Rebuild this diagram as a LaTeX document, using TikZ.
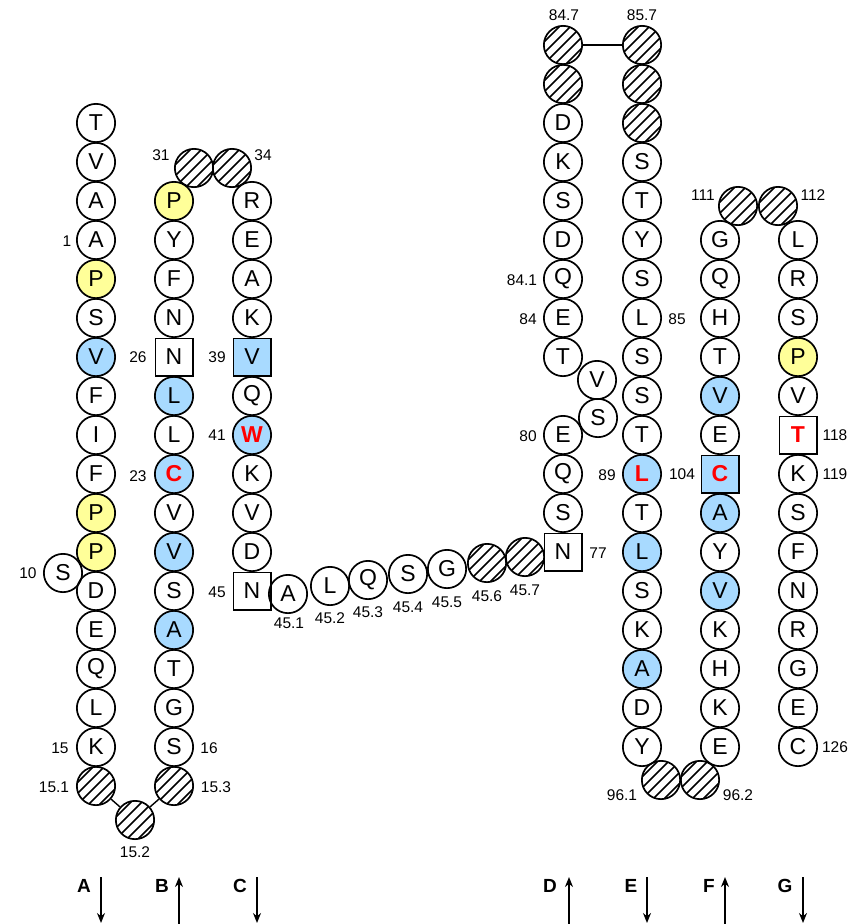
\documentclass[tikz,border=0pt]{standalone}
\usepackage{fontspec}
\setmainfont{Liberation Sans}
\usetikzlibrary{arrows.meta}
\definecolor{ylw}{HTML}{FFFF99}
\definecolor{lbl}{HTML}{A8DAFF}
\begin{document}
\begin{tikzpicture}[x=1pt,y=-1pt,
  res/.style={circle,draw,line width=1.7pt,minimum size=38.3pt,inner sep=0pt,font=\fontsize{23}{23}\selectfont},
  pw/.style={res},
  py/.style={res,fill=ylw},
  pb/.style={res,fill=lbl},
  pbr/.style={res,fill=lbl,text=red,font=\fontsize{23}{23}\selectfont\bfseries},
  psq/.style={res,rectangle,minimum size=37.3pt},
  pbsq/.style={psq,fill=lbl},
  pbsqr/.style={psq,fill=lbl,text=red,font=\fontsize{23}{23}\selectfont\bfseries},
  psqr/.style={psq,text=red,font=\fontsize{23}{23}\selectfont\bfseries},
  ph/.style={res,path picture={\foreach \k in {-44,-33,...,44} \draw[line width=1.6pt] ([xshift=\k pt]path picture bounding box.center) ++(-30pt,-30pt) -- ++(60pt,60pt);}},
  num/.style={font=\fontsize{15.5}{15.5}\selectfont,inner sep=0pt},
  lett/.style={font=\fontsize{19}{19}\selectfont\bfseries,inner sep=0pt},
  arr/.style={line width=1.8pt,-{Stealth[length=10pt,width=8pt]}},
  link/.style={line width=1.4pt}
]
\useasboundingbox (0,0) rectangle (854,924);

% column A
\foreach \l/\s [count=\i from 2] in {T/pw,V/pw,A/pw,A/pw,P/py,S/pw,V/pb,F/pw,I/pw,F/pw,P/py,P/py,D/pw,E/pw,Q/pw,L/pw,K/pw,{}/ph}
  \node[\s] (A\i) at (96,{45+39*\i}) {\l};
\node[pw] (Aside) at (63,573) {S};
% column B
\foreach \l/\s [count=\i from 4] in {P/py,Y/pw,F/pw,N/pw,N/psq,L/pb,L/pw,C/pbr,V/pw,V/pb,S/pw,A/pb,T/pw,G/pw,S/pw,{}/ph}
  \node[\s] (B\i) at (174,{45+39*\i}) {\l};
% column C
\foreach \l/\s [count=\i from 4] in {R/pw,E/pw,A/pw,K/pw,V/pbsq,Q/pw,W/pbr,K/pw,V/pw,D/pw,N/psq}
  \node[\s] (C\i) at (252,{45+39*\i}) {\l};
% loops
\node[ph] (h31) at (194,168) {};
\node[ph] (h34) at (232,168) {};
\node[ph] (h152) at (135,820) {};
% horizontal segment
\node[pw] (L1) at (288,594) {A};
\node[pw] (L2) at (330,586) {L};
\node[pw] (L3) at (368,580) {Q};
\node[pw] (L4) at (408,574) {S};
\node[pw] (L5) at (447,569) {G};
\node[ph] (L6) at (487,563) {};
\node[ph] (L7) at (525,557) {};
% column D
\foreach \l/\s [count=\i from 0] in {{}/ph,{}/ph,D/pw,K/pw,S/pw,D/pw,Q/pw,E/pw,T/pw}
  \node[\s] (D\i) at (563,{45+39*\i}) {\l};
\node[pw] (Dv) at (597,380) {V};
\node[pw] (Ds) at (598,418) {S};
\foreach \l/\s [count=\i from 10] in {E/pw,Q/pw,S/pw,N/psq}
  \node[\s] (D\i) at (563,{45+39*\i}) {\l};
% column E
\foreach \l/\s [count=\i from 0] in {{}/ph,{}/ph,{}/ph,S/pw,T/pw,Y/pw,S/pw,L/pw,S/pw,S/pw,T/pw,L/pbr,T/pw,L/pb,S/pw,K/pw,A/pb,D/pw,Y/pw}
  \node[\s] (E\i) at (642,{45+39*\i}) {\l};
\node[ph] (h961) at (661,780) {};
\node[ph] (h962) at (700,780) {};
% column F
\foreach \l/\s [count=\i from 5] in {G/pw,Q/pw,H/pw,T/pw,V/pb,E/pw,C/pbsqr,A/pb,Y/pw,V/pb,K/pw,H/pw,K/pw,E/pw}
  \node[\s] (F\i) at (720,{45+39*\i}) {\l};
\node[ph] (h111) at (738,206) {};
\node[ph] (h112) at (778,206) {};
% column G
\foreach \l/\s [count=\i from 5] in {L/pw,R/pw,S/pw,P/py,V/pw,T/psqr,K/pw,S/pw,F/pw,N/pw,R/pw,G/pw,E/pw,C/pw}
  \node[\s] (G\i) at (798,{45+39*\i}) {\l};

% visible links
\draw[link] (A19) -- (h152);
\draw[link] (h152) -- (B19);
\draw[link] (D0) -- (E0);

% number labels
\node[num] (n1) at (67,241) {1};
\node[num] (n10) at (28,573) {10};
\node[num] (n15) at (60,748) {15};
\node[num] (n151) at (54,787) {15.1};
\node[num] (n152) at (135,852) {15.2};
\node[num] (n16) at (209,748) {16};
\node[num] (n153) at (216,787) {15.3};
\node[num] (n26) at (138,357) {26};
\node[num] (n23) at (138,476) {23};
\node[num] (n31) at (161,155) {31};
\node[num] (n34) at (263,155) {34};
\node[num] (n39) at (217,357) {39};
\node[num] (n41) at (217,435) {41};
\node[num] (n45) at (217,592) {45};
\node[num] (n451) at (289,623) {45.1};
\node[num] (n452) at (330,618) {45.2};
\node[num] (n453) at (368,612) {45.3};
\node[num] (n454) at (408,607) {45.4};
\node[num] (n455) at (447,602) {45.5};
\node[num] (n456) at (487,596) {45.6};
\node[num] (n457) at (525,590) {45.7};
\node[num] (n77) at (598,553) {77};
\node[num] (n80) at (528,436) {80};
\node[num] (n84) at (528,319) {84};
\node[num] (n841) at (522,280) {84.1};
\node[num] (n847) at (564,15) {84.7};
\node[num] (n857) at (642,15) {85.7};
\node[num] (n85) at (677,319) {85};
\node[num] (n89) at (607,475) {89};
\node[num] (n104) at (682,474) {104};
\node[num] (n111) at (703,195) {111};
\node[num] (n112) at (813,195) {112};
\node[num] (n118) at (835,435) {118};
\node[num] (n119) at (835,474) {119};
\node[num] (n126) at (835,747) {126};
\node[num] (n961) at (622,795) {96.1};
\node[num] (n962) at (738,795) {96.2};

% strand letters and arrows
\node[lett] (lA) at (84,886) {A};
\node[lett] (lB) at (162,886) {B};
\node[lett] (lC) at (240,886) {C};
\node[lett] (lD) at (550,886) {D};
\node[lett] (lE) at (631,886) {E};
\node[lett] (lF) at (709,886) {F};
\node[lett] (lG) at (785,886) {G};
\coordinate (aT) at (101,877); \coordinate (aB) at (101,923);
\coordinate (bT) at (179,877); \coordinate (bB) at (179,924);
\coordinate (cT) at (257,877); \coordinate (cB) at (257,923);
\coordinate (dT) at (569,877); \coordinate (dB) at (569,924);
\coordinate (eT) at (647,877); \coordinate (eB) at (647,923);
\coordinate (fT) at (725,877); \coordinate (fB) at (725,924);
\coordinate (gT) at (803,877); \coordinate (gB) at (803,923);
\draw[arr] (aT) -- (aB);
\draw[arr] (bB) -- (bT);
\draw[arr] (cT) -- (cB);
\draw[arr] (dB) -- (dT);
\draw[arr] (eT) -- (eB);
\draw[arr] (fB) -- (fT);
\draw[arr] (gT) -- (gB);
\end{tikzpicture}
\end{document}
